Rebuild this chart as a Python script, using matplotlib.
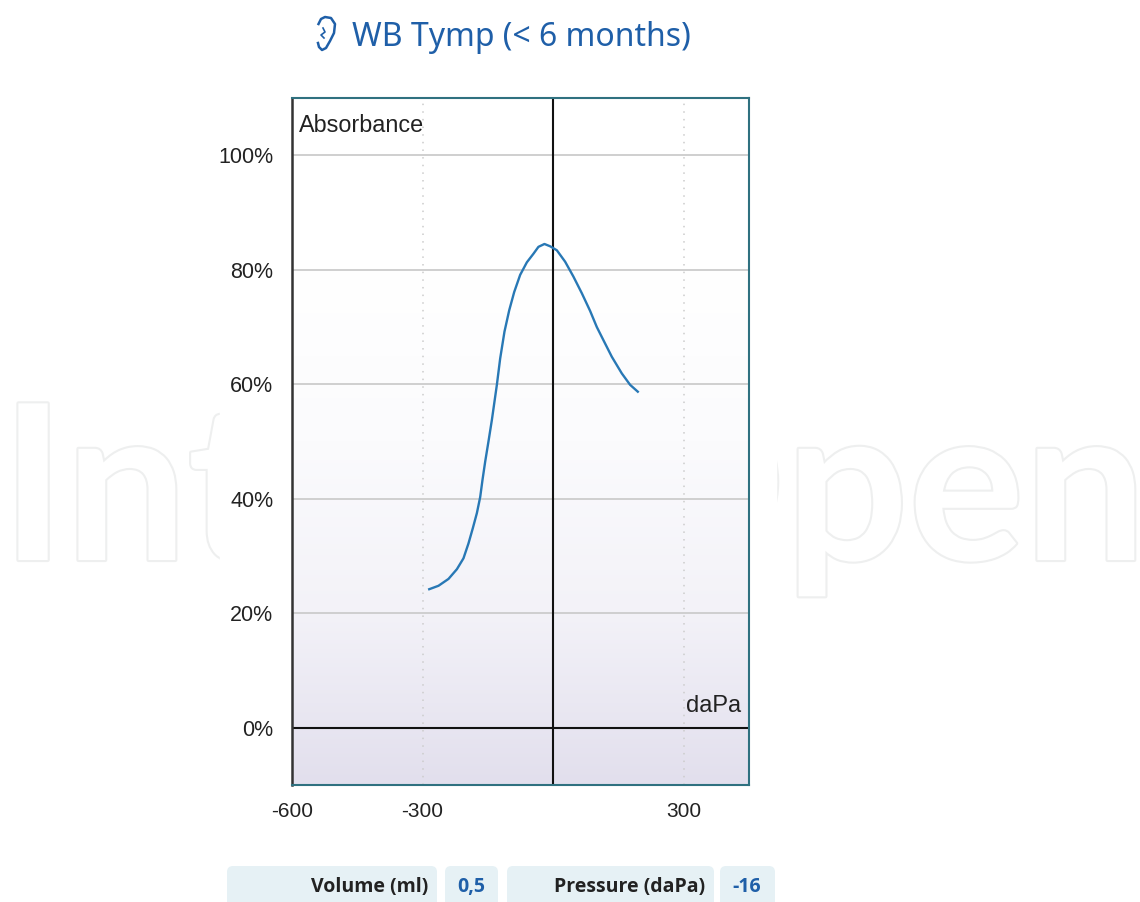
import numpy as np
import matplotlib
matplotlib.use('Agg')
import matplotlib.pyplot as plt
import matplotlib.patheffects as pe
from matplotlib.colors import LinearSegmentedColormap
from matplotlib.patches import FancyBboxPatch, Rectangle

# curve
pressure = [-284.7, -263.4, -240.4, -221.1, -206, -194.5, -184.4, -175.2, -167.6, -162.3, -156.1, -148.6,
            -140.7, -129.3, -121.7, -111.8, -101, -89.5, -75.8, -60.4, -45.2, -33.8, -20, -6.9,
            8.5, 27.6, 46.6, 65.9, 85, 100.3, 115.5, 134.8, 157.7, 176.8, 194.5]
absorbance = [24.2, 24.8, 26, 27.7, 29.6, 32.2, 34.9, 37.5, 40.3, 43.3, 46.5, 50,
              53.8, 59.9, 64.5, 69.2, 72.9, 76.1, 79.1, 81.3, 82.8, 84, 84.5, 84.1,
              83.4, 81.4, 78.8, 75.9, 72.8, 70, 67.7, 64.8, 61.9, 59.9, 58.7]
y_ticks = [0, 20, 40, 60, 80, 100]
y_labels = ['0%', '20%', '40%', '60%', '80%', '100%']
x_ticks = [-600, -300, 300]
x_labels = ['-600', '-300', '300']
table_labels = ['Volume (ml)', 'Pressure (daPa)']
table_values = ['0,5', '-16']

azul = '#1f5fa8'
fonte = 'Liberation Sans'
fonte_tab = 'Open Sans'

fig = plt.figure(figsize=(11.4, 9.02), dpi=100)

# layer in pixels for watermark, title and table
bg = fig.add_axes([0, 0, 1, 1])
bg.set_xlim(0, 1140)
bg.set_ylim(902, 0)
bg.axis('off')

marca = bg.text(1, 560, 'IntechOpen', fontsize=156, family='Lato', weight='bold', color='white', va='baseline', zorder=1)
marca.set_path_effects([pe.withStroke(linewidth=3, foreground='#eeefef')])
bg.add_patch(Rectangle((220, 380), 556, 260, color='white', zorder=2))

bg.text(352, 38, 'WB Tymp (< 6 months)', fontsize=23, family='Noto Sans', color=azul, va='center', zorder=3)

# ear icon
ear_x = [318.5, 321, 325, 331, 335, 334, 330, 326, 322, 319, 318]
ear_y = [24, 19, 17, 18, 24, 33, 41, 48, 50, 47, 43]
bg.plot(ear_x, ear_y, color=azul, lw=1.8, zorder=3)
bg.plot([323, 325, 321, 324], [28, 32, 35, 38], color=azul, lw=1.2, zorder=3)

# table under the chart, cut by the bottom of the image
caixas = [(227, 210), (445, 53), (507, 207), (720, 55)]
for x0, w in caixas:
    bg.add_patch(FancyBboxPatch((x0, 866), w, 56, boxstyle='round,pad=0,rounding_size=6',
                                linewidth=0, facecolor='#e6f1f5', zorder=3))
bg.text(428, 887, table_labels[0], fontsize=14, family=fonte_tab, weight='bold', color='#222222', ha='right', va='center', zorder=4)
bg.text(705, 887, table_labels[1], fontsize=14, family=fonte_tab, weight='bold', color='#222222', ha='right', va='center', zorder=4)
bg.text(471, 887, table_values[0], fontsize=14, family=fonte_tab, weight='bold', color=azul, ha='center', va='center', zorder=4)
bg.text(747, 887, table_values[1], fontsize=14, family=fonte_tab, weight='bold', color=azul, ha='center', va='center', zorder=4)

# chart
ax = fig.add_axes([292 / 1140, 1 - 785 / 902, 457 / 1140, 687 / 902])

cmap = LinearSegmentedColormap.from_list('fundo', ['#e2dfed', '#f3f2f8', '#fbfbfd', '#ffffff'])
ax.imshow(np.linspace(0, 1, 256).reshape(-1, 1), extent=[-600, 450, -10, 80], aspect='auto', cmap=cmap,
          origin='lower', zorder=0)
ax.set_xlim(-600, 450)
ax.set_ylim(-10, 110)

for y in y_ticks[1:]:
    ax.axhline(y, color='#cccccc', lw=1.3, zorder=1)
for x in [-300, 300]:
    ax.axvline(x, color='#cccccc', lw=1.1, ls=(0, (1, 4)), zorder=1)
ax.axhline(0, color='#111111', lw=1.5, zorder=2)
ax.axvline(0, color='#111111', lw=1.5, zorder=2)

ax.plot(pressure, absorbance, color='#2878b5', lw=1.7, zorder=3)

ax.set_xticks(x_ticks)
ax.set_xticklabels(x_labels, fontsize=15, family=fonte, color='#222222')
ax.set_yticks(y_ticks)
ax.set_yticklabels(y_labels, fontsize=15.5, family=fonte, color='#222222')
ax.tick_params(axis='both', length=0)
ax.tick_params(axis='x', pad=12)
ax.tick_params(axis='y', pad=13.5)

ax.text(-583, 105.2, 'Absorbance', fontsize=16.8, family=fonte, color='#222222', va='center')
ax.text(432, 3.8, 'daPa', fontsize=17, family=fonte, color='#222222', ha='right', va='center')

for lado in ['top', 'right', 'bottom']:
    ax.spines[lado].set_color('#2f7180')
    ax.spines[lado].set_linewidth(1.5)
ax.spines['left'].set_color('#333333')
ax.spines['left'].set_linewidth(1.8)

fig.savefig('out.png', dpi=100)
